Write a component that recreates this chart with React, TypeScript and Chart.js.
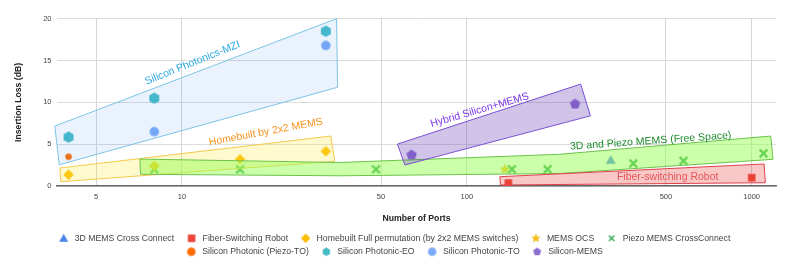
import React, { useEffect, useRef } from 'react';
import { Chart, registerables } from 'chart.js';

Chart.register(...registerables);

// ---------------- data ----------------
const seriesNames = [
  '3D MEMS Cross Connect',
  'Fiber-Switching Robot',
  'Homebuilt Full permutation (by 2x2 MEMS switches)',
  'MEMS OCS',
  'Piezo MEMS CrossConnect',
  'Silicon Photonic (Piezo-TO)',
  'Silicon Photonic-EO',
  'Silicon Photonic-TO',
  'Silicon-MEMS',
];

const mems3dPorts = [320];
const mems3dLoss = [3.1];

const robotPorts = [140, 1000];
const robotLoss = [0.35, 1.0];

const homebuiltPorts = [4, 8, 16, 32];
const homebuiltLoss = [1.35, 2.4, 3.2, 4.15];

const memsOcsPorts = [136];
const memsOcsLoss = [2.0];

const piezoPorts = [8, 16, 48, 144, 192, 384, 576, 1100];
const piezoLoss = [2.0, 2.0, 2.0, 2.0, 2.0, 2.7, 3.0, 3.9];

const piezoToPorts = [4];
const piezoToLoss = [3.5];

const eoPorts = [4, 8, 32];
const eoLoss = [5.85, 10.5, 18.5];

const toPorts = [8, 32];
const toLoss = [6.5, 16.8];

const siMemsPorts = [64, 240];
const siMemsLoss = [3.7, 9.8];

const xTickValues = [5, 10, 50, 100, 500, 1000];
const yTickStep = 5;

// annotation bands: vertices as [ports, insertion loss]
const mziBand = [[3.58, 7.16], [34.9, 20.0], [35.2, 11.8], [3.71, 2.54]];
const homebuiltBand = [[3.73, 2.15], [33.3, 5.97], [34.4, 2.95], [3.76, 0.51]];
const freeSpaceBand = [
  [7.12, 3.22], [35.8, 2.81], [212, 3.79], [1166, 5.97],
  [1188, 3.19], [212, 1.49], [35.8, 1.22], [7.16, 1.4],
];
const hybridBand = [[57.1, 5.01], [251, 12.18], [271.6, 8.39], [60.6, 2.51]];
const robotBand = [[130.6, 1.11], [1105, 2.63], [1117, 0.39], [131.3, 0.12]];

const bandLabelTexts = [
  'Silicon Photonics-MZI',
  'Homebuilt by 2x2 MEMS',
  '3D and Piezo MEMS (Free Space)',
  'Hybrid Silicon+MEMS',
  'Fiber-switching Robot',
];
const bandLabelPorts = [10.9, 19.7, 442, 111, 507];
const bandLabelLoss = [14.7, 6.45, 5.37, 9.07, 1.11];

// ---------------- styles ----------------
const FONT = 'Arial, "Liberation Sans", sans-serif';

const seriesColors = [
  '#4a86e8', '#ea4335', '#fbbc04', '#f6bd1e', '#34a853',
  '#ff6d01', '#46bdc6', '#7baaf7', '#8c6fd1',
];
const seriesShapes = [
  'triangle', 'square', 'diamond', 'star', 'x',
  'circle', 'hexagon', 'circle', 'pentagon',
];
const plotSizes = [10, 7.5, 10.5, 11, 9, 6.5, 11.5, 9.5, 11];
const legendSizes = [9, 7.5, 9.5, 10, 6.5, 8.5, 8.5, 8.5, 8.5];

const bandStyles = [
  { fill: 'rgba(66,133,244,0.11)', stroke: '#7cc4e4', text: '#2aa8e0', angle: -22 },
  { fill: 'rgba(255,235,59,0.25)', stroke: '#f2c94c', text: '#f7931e', angle: -10.5 },
  { fill: 'rgba(153,255,85,0.5)', stroke: '#6cc24a', text: '#1e8c2c', angle: -4 },
  { fill: 'rgba(103,58,183,0.3)', stroke: '#7b4fd6', text: '#7b35e8', angle: -16 },
  { fill: 'rgba(229,57,53,0.28)', stroke: '#e0404a', text: '#e8555a', angle: 0 },
];

function makeMarker(shape: string, size: number, color: string, thin = false): HTMLCanvasElement {
  const pad = 2;
  const s = Math.ceil(size + pad * 2);
  const c = document.createElement('canvas');
  c.width = s;
  c.height = s;
  const ctx = c.getContext('2d')!;
  const r = size / 2;
  const cx = s / 2;
  const cy = s / 2;
  ctx.fillStyle = color;
  ctx.strokeStyle = color;
  ctx.beginPath();
  const poly = (n: number, rr: number, start: number) => {
    for (let i = 0; i < n; i++) {
      const a = start + (i * 2 * Math.PI) / n;
      const px = cx + rr * Math.cos(a);
      const py = cy + rr * Math.sin(a);
      if (i === 0) ctx.moveTo(px, py);
      else ctx.lineTo(px, py);
    }
    ctx.closePath();
    ctx.fill();
  };
  switch (shape) {
    case 'circle':
      ctx.arc(cx, cy, r, 0, Math.PI * 2);
      ctx.fill();
      break;
    case 'square':
      ctx.fillRect(cx - r, cy - r, size, size);
      break;
    case 'triangle':
      ctx.moveTo(cx, cy - r);
      ctx.lineTo(cx + r, cy + r * 0.75);
      ctx.lineTo(cx - r, cy + r * 0.75);
      ctx.closePath();
      ctx.fill();
      break;
    case 'diamond':
      poly(4, r, -Math.PI / 2);
      break;
    case 'hexagon':
      poly(6, r, -Math.PI / 2);
      break;
    case 'pentagon':
      poly(5, r, -Math.PI / 2);
      break;
    case 'star': {
      for (let i = 0; i < 10; i++) {
        const a = -Math.PI / 2 + (i * Math.PI) / 5;
        const rr = i % 2 === 0 ? r : r * 0.45;
        const px = cx + rr * Math.cos(a);
        const py = cy + rr * Math.sin(a);
        if (i === 0) ctx.moveTo(px, py);
        else ctx.lineTo(px, py);
      }
      ctx.closePath();
      ctx.fill();
      break;
    }
    case 'x': {
      ctx.lineWidth = thin ? 1.4 : 2.3;
      const d = r * 0.85;
      ctx.moveTo(cx - d, cy - d);
      ctx.lineTo(cx + d, cy + d);
      ctx.moveTo(cx + d, cy - d);
      ctx.lineTo(cx - d, cy + d);
      ctx.stroke();
      break;
    }
  }
  return c;
}

function pts(xs: number[], ys: number[]) {
  return xs.map((v, i) => ({ x: v, y: ys[i] }));
}

export default function App() {
  const ref = useRef<HTMLCanvasElement | null>(null);

  useEffect(() => {
    document.body.style.margin = '0';
    document.body.style.overflow = 'hidden';
    const canvas = ref.current;
    if (!canvas) return;

    const plotMarkers = seriesShapes.map((sh, i) => makeMarker(sh, plotSizes[i], seriesColors[i]));
    const legendMarkers = seriesShapes.map((sh, i) => makeMarker(sh, legendSizes[i], seriesColors[i], true));

    const seriesData = [
      pts(mems3dPorts, mems3dLoss),
      pts(robotPorts, robotLoss),
      pts(homebuiltPorts, homebuiltLoss),
      pts(memsOcsPorts, memsOcsLoss),
      pts(piezoPorts, piezoLoss),
      pts(piezoToPorts, piezoToLoss),
      pts(eoPorts, eoLoss),
      pts(toPorts, toLoss),
      pts(siMemsPorts, siMemsLoss),
    ];

    const bands = [mziBand, homebuiltBand, freeSpaceBand, hybridBand, robotBand];

    const bandsPlugin = {
      id: 'bands',
      afterDatasetsDraw(chart: any) {
        const { ctx } = chart;
        const xs = chart.scales.x;
        const ys = chart.scales.y;
        ctx.save();
        bands.forEach((b, bi) => {
          const st = bandStyles[bi];
          ctx.beginPath();
          b.forEach(([px, py], i) => {
            const X = xs.getPixelForValue(px);
            const Y = ys.getPixelForValue(py);
            if (i === 0) ctx.moveTo(X, Y);
            else ctx.lineTo(X, Y);
          });
          ctx.closePath();
          ctx.fillStyle = st.fill;
          ctx.fill();
          ctx.strokeStyle = st.stroke;
          ctx.lineWidth = 1;
          ctx.stroke();
        });
        ctx.font = `10.5px ${FONT}`;
        ctx.textAlign = 'center';
        ctx.textBaseline = 'middle';
        bandLabelTexts.forEach((t, i) => {
          const st = bandStyles[i];
          const X = xs.getPixelForValue(bandLabelPorts[i]);
          const Y = ys.getPixelForValue(bandLabelLoss[i]);
          ctx.save();
          ctx.translate(X, Y);
          ctx.rotate((st.angle * Math.PI) / 180);
          ctx.fillStyle = st.text;
          ctx.fillText(t, 0, 0);
          ctx.restore();
        });
        ctx.restore();
      },
    };

    const legendPlugin = {
      id: 'customLegend',
      afterDraw(chart: any) {
        const { ctx } = chart;
        ctx.save();
        ctx.font = `8.7px ${FONT}`;
        const markerW = 16;
        const gap = 12.5;
        const items = seriesNames.map((n, i) => ({
          text: n,
          img: legendMarkers[i],
          w: markerW + ctx.measureText(n).width,
        }));
        const maxW = chart.width - 20;
        const rows: any[][] = [[]];
        let cur = 0;
        items.forEach((it) => {
          const row = rows[rows.length - 1];
          const add = row.length ? gap + it.w : it.w;
          if (row.length && cur + add > maxW) {
            rows.push([it]);
            cur = it.w;
          } else {
            row.push(it);
            cur += add;
          }
        });
        const top = chart.scales.x.bottom;
        rows.forEach((row, ri) => {
          const total = row.reduce((s, it) => s + it.w, 0) + gap * (row.length - 1);
          let x = (chart.width - total) / 2;
          const y = top + 8.8 + ri * 13.4;
          row.forEach((it) => {
            ctx.drawImage(it.img, x + 5 - it.img.width / 2, y - it.img.height / 2);
            ctx.fillStyle = '#444';
            ctx.textBaseline = 'middle';
            ctx.textAlign = 'left';
            ctx.fillText(it.text, x + markerW, y);
            x += it.w + gap;
          });
        });
        ctx.restore();
      },
    };

    const chart = new Chart(canvas, {
      type: 'scatter',
      data: {
        datasets: seriesNames.map((n, i) => ({
          label: n,
          data: seriesData[i],
          pointStyle: plotMarkers[i] as any,
          pointRadius: 5,
          backgroundColor: seriesColors[i],
          borderColor: seriesColors[i],
        })),
      },
      options: {
        animation: false,
        responsive: false,
        events: [],
        layout: { padding: { left: 0, right: 13, top: 18.7, bottom: 40.5 } },
        plugins: {
          legend: { display: false },
          tooltip: { enabled: false },
        },
        scales: {
          x: {
            type: 'logarithmic',
            min: 3.644,
            max: 1217,
            afterBuildTicks: (s: any) => {
              s.ticks = xTickValues.map((v) => ({ value: v }));
            },
            afterFit: (s: any) => {
              s.height = 43.5;
            },
            ticks: {
              callback: (v: any) => String(v),
              font: { size: 7.5, family: FONT },
              color: '#444',
              padding: 6,
              maxRotation: 0,
              autoSkip: false,
            },
            grid: { color: '#d6d6d6', drawTicks: false },
            border: { display: true, color: '#666', width: 1.5 },
            title: {
              display: true,
              text: 'Number of Ports',
              font: { size: 8.7, weight: 'bold', family: FONT },
              color: '#222',
              padding: { top: 0, bottom: 5.3 },
            },
          },
          y: {
            min: 0,
            max: 20,
            afterFit: (s: any) => {
              s.width = 57;
            },
            ticks: {
              stepSize: yTickStep,
              font: { size: 7.5, family: FONT },
              color: '#444',
              padding: 5.5,
            },
            grid: { color: '#dcdcdc', drawTicks: false },
            border: { display: false },
            title: {
              display: true,
              text: 'Insertion Loss (dB)',
              font: { size: 8.7, weight: 'bold', family: FONT },
              color: '#222',
              padding: { top: 13, bottom: 0 },
            },
          },
        },
      } as any,
      plugins: [bandsPlugin, legendPlugin],
    });

    return () => chart.destroy();
  }, []);

  return (
    <div style={{ width: 789, height: 270, background: '#fff' }}>
      <canvas ref={ref} width={789} height={270} style={{ display: 'block' }} />
    </div>
  );
}
